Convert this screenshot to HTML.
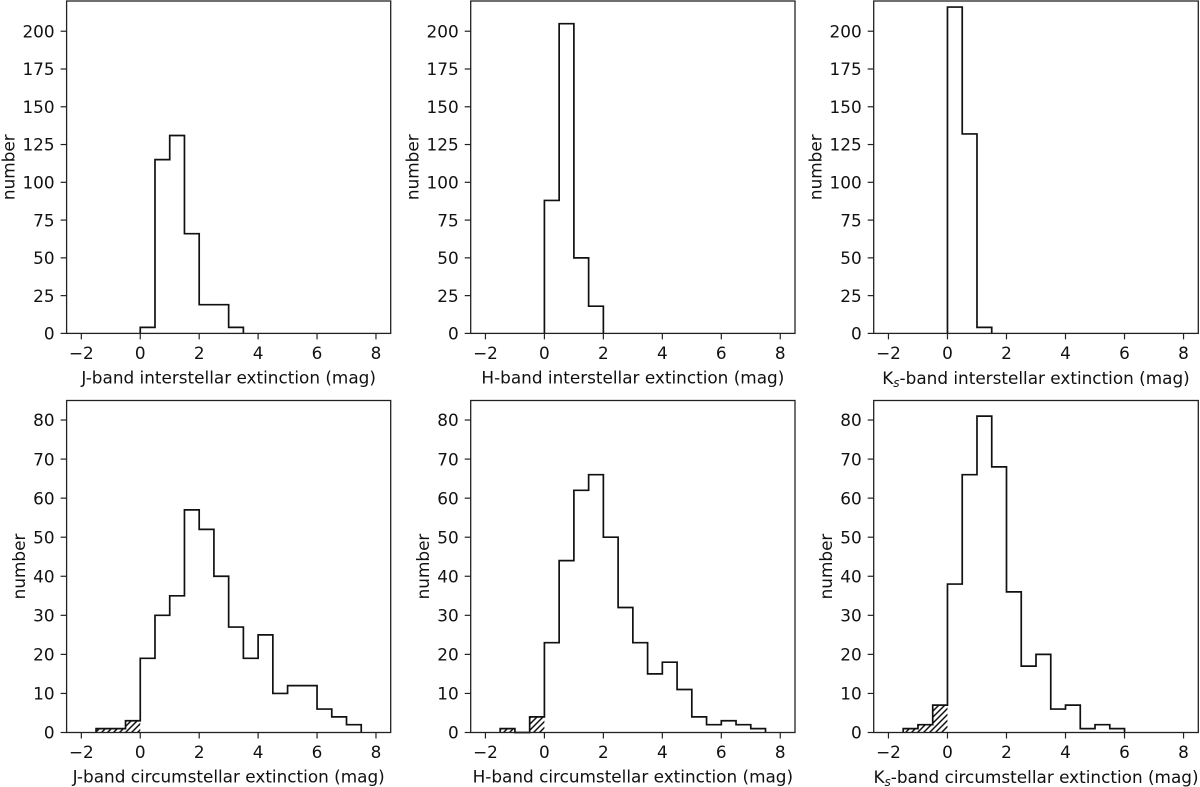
<!DOCTYPE html>
<html lang="en">
<head>
<meta charset="utf-8">
<title>Interstellar and circumstellar extinction histograms</title>
<style>
  html, body { margin: 0; padding: 0; background: #fff; }
  #figure { position: absolute; left: 0; top: 0; display: block; }
  text { font-family: "DejaVu Sans", "Liberation Sans", sans-serif; font-size: 16.85px; fill: #111; }
</style>
</head>
<body>
<svg id="figure" xmlns="http://www.w3.org/2000/svg" width="1200" height="787" viewBox="0 0 1200 787">
  <defs>
    <pattern id="hatch" patternUnits="userSpaceOnUse" width="6" height="6">
      <path d="M-1,1 L1,-1 M0,6 L6,0 M5,7 L7,5" stroke="#111" stroke-width="1.5" fill="none"/>
    </pattern>
  </defs>
</svg>
<script>
// Data: histogram counts per 0.5 mag bin, first bin starting at the paired *Start value
const jInterstellarStart = 0;
const jInterstellar = [4, 115, 131, 66, 19, 19, 4];
const hInterstellarStart = 0;
const hInterstellar = [88, 205, 50, 18];
const kInterstellarStart = 0;
const kInterstellar = [216, 132, 4];
const jCircumstellarStart = -1.5;
const jCircumstellar = [1, 1, 3, 19, 30, 35, 57, 52, 40, 27, 19, 25, 10, 12, 12, 6, 4, 2];
const hCircumstellarStart = -1.5;
const hCircumstellar = [1, 0, 4, 23, 44, 62, 66, 50, 32, 23, 15, 18, 11, 4, 2, 3, 2, 1];
const kCircumstellarStart = -1.5;
const kCircumstellar = [1, 2, 7, 38, 66, 81, 68, 36, 17, 20, 6, 7, 1, 2, 1];
const binWidth = 0.5;
const xTicks = [-2, 0, 2, 4, 6, 8];
const yTicksInterstellar = [0, 25, 50, 75, 100, 125, 150, 175, 200];
const yTicksCircumstellar = [0, 10, 20, 30, 40, 50, 60, 70, 80];
const xDomain = [-2.5, 8.5];
const yDomainInterstellar = [0, 220];
const yDomainCircumstellar = [0, 85];

const NS = 'http://www.w3.org/2000/svg';
const figure = document.getElementById('figure');

function make(tag, parent, attrs, text) {
  const el = document.createElementNS(NS, tag);
  for (const k in attrs) el.setAttribute(k, attrs[k]);
  if (text !== undefined) el.textContent = text;
  parent.appendChild(el);
  return el;
}

function drawPanel(id, box, yDomain, yTicks, binStart, counts, band, kind, yLabelGap) {
  const xScale = v => box.left + (v - xDomain[0]) / (xDomain[1] - xDomain[0]) * (box.right - box.left);
  const yScale = v => box.bottom - (v - yDomain[0]) / (yDomain[1] - yDomain[0]) * (box.bottom - box.top);

  const g = make('g', figure, {});
  
  

  // Hatched area for bins below zero
  let hatchD = '';
  counts.forEach((c, i) => {
    const a = binStart + i * binWidth;
    if (a < 0 && c > 0) {
      hatchD += 'M' + xScale(a) + ',' + yScale(0) + 'V' + yScale(c) + 'H' + xScale(a + binWidth) + 'V' + yScale(0) + 'Z';
    }
  });
  if (hatchD) {
    const hatch = make('path', g, { d: hatchD, fill: 'url(#hatch)', stroke: 'none' });
    
    
  }

  // Step outline
  let d = 'M' + xScale(binStart) + ',' + yScale(0);
  counts.forEach((c, i) => {
    const a = binStart + i * binWidth;
    d += 'V' + yScale(c) + 'H' + xScale(a + binWidth);
  });
  d += 'V' + yScale(0);
  const step = make('path', g, { d: d, fill: 'none', stroke: '#111', 'stroke-width': 1.7, 'stroke-linejoin': 'miter' });
  
  

  // Axes frame
  const frame = make('rect', g, {
    x: box.left, y: box.top, width: box.right - box.left, height: box.bottom - box.top,
    fill: 'none', stroke: '#222', 'stroke-width': 1.3
  });
  
  

  // X ticks
  xTicks.forEach(v => {
    const x = xScale(v);
    const tick = make('line', g, { x1: x, x2: x, y1: box.bottom, y2: box.bottom + 6, stroke: '#222', 'stroke-width': 1.2 });
    
    
    const label = make('text', g, { x: x, y: box.bottom + 25.5, 'text-anchor': 'middle' }, String(v).replace('-', '\u2212'));
    
    
  });

  // Y ticks
  yTicks.forEach(v => {
    const y = yScale(v);
    const tick = make('line', g, { x1: box.left - 6, x2: box.left, y1: y, y2: y, stroke: '#222', 'stroke-width': 1.2 });
    
    
    const label = make('text', g, { x: box.left - 12, y: y + 6.2, 'text-anchor': 'end' }, String(v));
    
    
  });

  // X axis title
  const cx = (box.left + box.right) / 2;
  const title = make('text', g, { x: cx, y: box.bottom + 50, 'text-anchor': 'middle' });
  
  
  if (band === 'Ks') {
    title.setAttribute('y', box.bottom + 50.7);
    make('tspan', title, {}, 'K');
    make('tspan', title, { dy: 3, 'font-size': '12px', 'font-style': 'italic' }, 's');
    make('tspan', title, { dy: -3 }, '-band ' + kind + ' extinction (mag)');
  } else {
    make('tspan', title, {}, band + '-band ' + kind + ' extinction (mag)');
  }

  // Y axis title
  const cy = (box.top + box.bottom) / 2;
  const ytx = box.left - yLabelGap;
  const yTitle = make('text', g, { x: ytx, y: cy, 'text-anchor': 'middle', transform: 'rotate(-90 ' + ytx + ' ' + cy + ')' }, 'number');
  
  
}

const topRow = { top: 1, bottom: 333.4 };
const bottomRow = { top: 400.5, bottom: 732.5 };
const col1 = { left: 66.6, right: 390.7 };
const col2 = { left: 470.7, right: 795 };
const col3 = { left: 873.7, right: 1198.3 };

drawPanel('j-interstellar', Object.assign({}, topRow, col1), yDomainInterstellar, yTicksInterstellar, jInterstellarStart, jInterstellar, 'J', 'interstellar', 52.3);
drawPanel('h-interstellar', Object.assign({}, topRow, col2), yDomainInterstellar, yTicksInterstellar, hInterstellarStart, hInterstellar, 'H', 'interstellar', 52.3);
drawPanel('ks-interstellar', Object.assign({}, topRow, col3), yDomainInterstellar, yTicksInterstellar, kInterstellarStart, kInterstellar, 'Ks', 'interstellar', 52.3);
drawPanel('j-circumstellar', Object.assign({}, bottomRow, col1), yDomainCircumstellar, yTicksCircumstellar, jCircumstellarStart, jCircumstellar, 'J', 'circumstellar', 41.8);
drawPanel('h-circumstellar', Object.assign({}, bottomRow, col2), yDomainCircumstellar, yTicksCircumstellar, hCircumstellarStart, hCircumstellar, 'H', 'circumstellar', 41.8);
drawPanel('ks-circumstellar', Object.assign({}, bottomRow, col3), yDomainCircumstellar, yTicksCircumstellar, kCircumstellarStart, kCircumstellar, 'Ks', 'circumstellar', 41.8);
</script>
</body>
</html>
